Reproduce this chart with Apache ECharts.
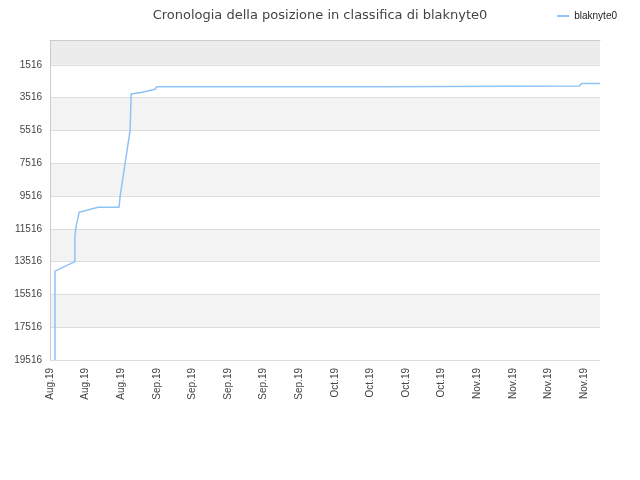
<!DOCTYPE html><html><head><meta charset="utf-8"><script src="https://cdn.jsdelivr.net/npm/echarts@6/dist/echarts.min.js"></script></head><body style="margin:0"><div id="c" style="width:640px;height:480px"></div><script>
const xLabels=['Aug.19','Aug.19','Aug.19','Sep.19','Sep.19','Sep.19','Sep.19','Sep.19','Oct.19','Oct.19','Oct.19','Oct.19','Nov.19','Nov.19','Nov.19','Nov.19'];
const xPos=[0.14,0.14,0.70,0.70,0.73,0.82,1.35,1.94,1.97,2.25,2.28,2.56,2.95,3.0,9.2,9.23,14.87,14.93,15.45];
const ranks=[19516,14100,13516,12000,11400,10500,10200,10200,9516,5516,3300,3200,3000,2850,2850,2800,2800,2650,2650];
const ch=echarts.init(document.getElementById('c'));
ch.setOption({
title:{text:'Cronologia della posizione in classifica di blaknyte0',left:'center',top:4,textStyle:{fontSize:13,fontWeight:'normal',color:'#444',fontFamily:'DejaVu Sans'}},
legend:{right:18,top:6,itemWidth:12,itemHeight:2,icon:'rect',textStyle:{fontSize:10,color:'#222'},data:['blaknyte0']},
grid:{left:50,right:40,top:40,bottom:120},
xAxis:{type:'value',min:0,max:15.45,interval:1,axisLine:{lineStyle:{color:'#ccc'}},axisTick:{show:false},splitLine:{show:false},
 axisLabel:{rotate:90,fontSize:10,color:'#444',showMaxLabel:false,formatter:v=>xLabels[Math.round(v)]||''}},
yAxis:{type:'value',min:-19516,max:0,interval:2000,axisLine:{show:true,lineStyle:{color:'#ccc'}},axisTick:{show:false},
 splitLine:{lineStyle:{color:'#ddd'}},splitArea:{show:true,areaStyle:{color:['#fff','#f3f3f3','#fff','#f3f3f3','#fff','#f3f3f3','#fff','#f3f3f3','#fff','#ececec']}},
 axisLabel:{fontSize:10,color:'#444',showMaxLabel:false,formatter:v=>v===0?'':String(-v)}},
series:[{name:'blaknyte0',type:'line',symbol:'none',lineStyle:{color:'#8ec3f5',width:1.5},itemStyle:{color:'#8ec3f5'},
 data:xPos.map((x,i)=>[x,-ranks[i]])}]
});
</script></body></html>
